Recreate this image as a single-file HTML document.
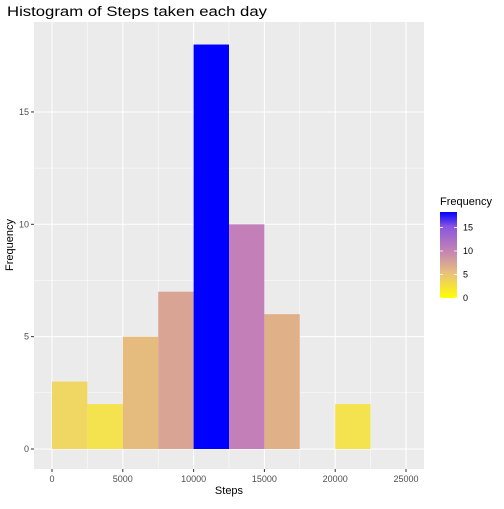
<!DOCTYPE html>
<html><head><meta charset="utf-8"><style>
body{margin:0;background:#fff;font-family:"Liberation Sans",sans-serif}
</style></head><body>
<svg id="c" width="504" height="504" xmlns="http://www.w3.org/2000/svg">
<defs><linearGradient id="lg" x1="0" y1="1" x2="0" y2="0">
<stop offset="0" stop-color="#FFFF00"/><stop offset="0.28" stop-color="#E9C27A"/><stop offset="0.55" stop-color="#C383B5"/><stop offset="0.83" stop-color="#8A55E0"/><stop offset="1" stop-color="#0000FF"/></linearGradient></defs>
<text x="7" y="16" font-size="13.5" textLength="260" lengthAdjust="spacingAndGlyphs" fill="#000">Histogram of Steps taken each day</text>
<rect x="34" y="22" width="390" height="447" fill="#EBEBEB"/>
<g id="grid"></g><g id="bars"></g><g id="axes"></g>
<text x="229" y="494" font-size="11" text-anchor="middle">Steps</text>
<text x="13" y="245" font-size="11" text-anchor="middle" transform="rotate(-90 13 245)">Frequency</text>
<g>
<text x="440" y="205" font-size="11">Frequency</text>
<rect x="440" y="212" width="17" height="86" fill="url(#lg)"/>
<g id="leg"></g></g>
</svg>
<script>
const binStarts=[0,2500,5000,7500,10000,12500,15000,17500,20000,22500];
const counts=[3,2,5,7,18,10,6,0,2,0];
const xTicks=[0,5000,10000,15000,20000,25000];
const yTicks=[0,5,10,15];
const binWidth=2500;
const X=v=>52+v*(70.8/5000), Y=v=>449-v*22.47;
const ns="http://www.w3.org/2000/svg";
function mk(t,a,p){const e=document.createElementNS(ns,t);for(const k in a)e.setAttribute(k,a[k]);p.appendChild(e);return e;}
const stops=[[0,[247,240,58]],[2,[244,227,78]],[3,[240,214,98]],[5,[230,188,126]],[7,[218,164,148]],[10,[195,128,184]],[15,[136,85,224]],[18,[0,0,255]]];
function col(v){for(let i=1;i<stops.length;i++){if(v<=stops[i][0]){const[a,ca]=stops[i-1],[b,cb]=stops[i];const t=(v-a)/(b-a);return"rgb("+ca.map((c,j)=>Math.round(c+(cb[j]-c)*t)).join(",")+")";}}return"rgb(0,0,255)";}
const g=document.getElementById('grid'),b=document.getElementById('bars'),ax=document.getElementById('axes'),lg=document.getElementById('leg');
xTicks.forEach((t,i)=>{if(i<xTicks.length-1){const l=mk('line',{x1:X(t+2500),x2:X(t+2500),y1:22,y2:469,stroke:'#fff','stroke-width':0.5},g);}
const m=mk('line',{x1:X(t),x2:X(t),y1:22,y2:469,stroke:'#fff','stroke-width':1},g);
mk('line',{x1:X(t),x2:X(t),y1:469,y2:472,stroke:'#333'},ax);
const tx=mk('text',{x:X(t),y:482,'font-size':9,fill:'#4d4d4d','text-anchor':'middle'},ax);tx.textContent=t;});
yTicks.forEach((t,i)=>{if(i<yTicks.length-1){const l=mk('line',{x1:34,x2:424,y1:Y(t+2.5),y2:Y(t+2.5),stroke:'#fff','stroke-width':0.5},g);}
const m=mk('line',{x1:34,x2:424,y1:Y(t),y2:Y(t),stroke:'#fff','stroke-width':1},g);
mk('line',{x1:31,x2:34,y1:Y(t),y2:Y(t),stroke:'#333'},ax);
const tx=mk('text',{x:29,y:Y(t)+3,'font-size':9,fill:'#4d4d4d','text-anchor':'end'},ax);tx.textContent=t;});
binStarts.forEach((s,i)=>{const v=counts[i];if(v<=0)return;const r=mk('rect',{x:X(s),y:Y(v),width:X(s+binWidth)-X(s),height:Y(0)-Y(v),fill:col(v)},b);

});
yTicks.forEach(t=>{const y=298-t*(86/18.3);mk('line',{x1:440,x2:443,y1:y,y2:y,stroke:'#fff','stroke-width':0.8},lg);mk('line',{x1:454,x2:457,y1:y,y2:y,stroke:'#fff','stroke-width':0.8},lg);
const tx=mk('text',{x:463,y:y+3,'font-size':9,fill:'#000'},lg);tx.textContent=t;});
</script>
</body></html>
